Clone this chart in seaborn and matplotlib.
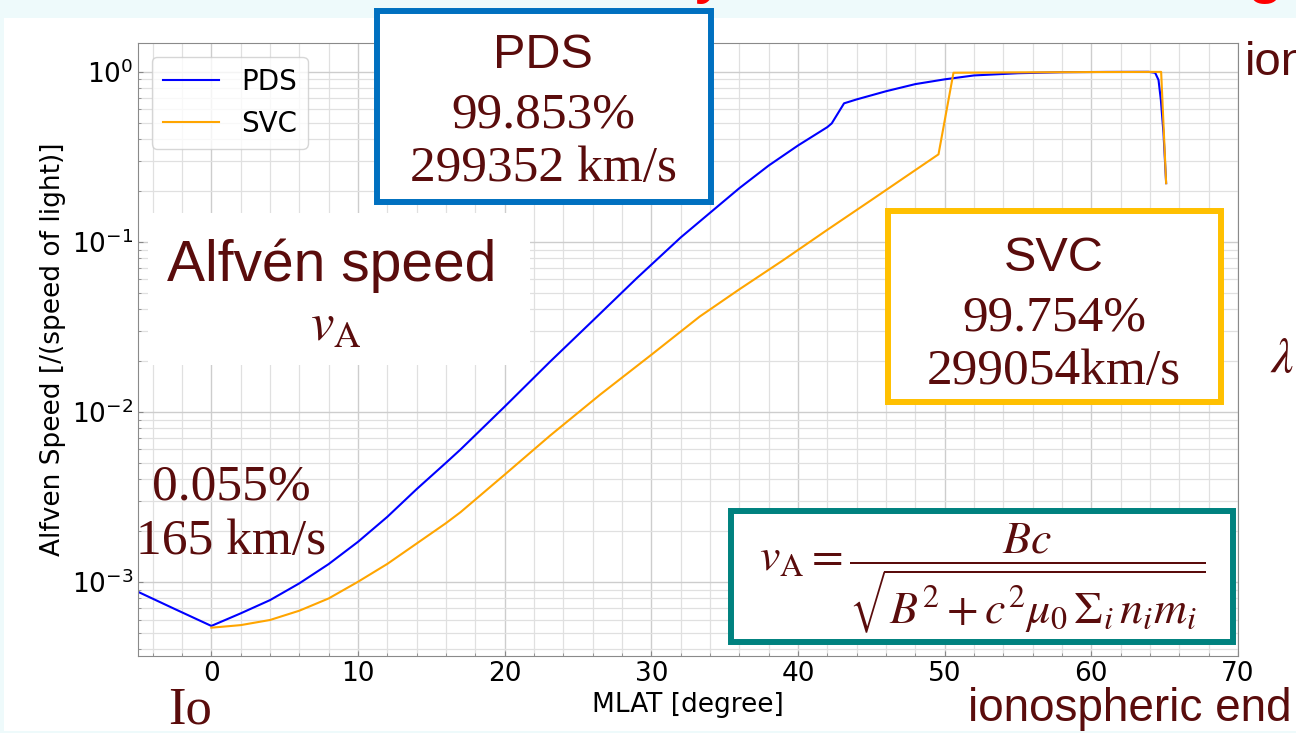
import numpy as np
import pandas as pd
import matplotlib
matplotlib.use("Agg")
import matplotlib.pyplot as plt
import seaborn as sns
from matplotlib.patches import Rectangle
from matplotlib.ticker import AutoMinorLocator

# ---------------- data ----------------
pds_mlat = [-5.0, -2.5, 0.0, 2.0, 4.0, 6.0, 8.0, 10.0, 12.0, 14.0, 16.0, 17.0,
            20.0, 23.1, 26.0, 29.0, 32.0, 34.0, 36.0, 38.0, 40.0, 42.0, 42.3,
            43.14, 44.0, 46.0, 48.0, 50.0, 52.0, 55.0, 58.0, 61.0, 63.9,
            64.35, 64.58, 64.74, 64.92, 65.1]
pds_speed = [8.73e-4, 6.92e-4, 5.5e-4, 6.52e-4, 7.80e-4, 9.79e-4, 1.271e-3,
             1.718e-3, 2.410e-3, 3.508e-3, 5.012e-3, 6.01e-3, 1.072e-2,
             1.972e-2, 3.428e-2, 6.095e-2, 0.1059, 0.1479, 0.2065, 0.2805,
             0.3681, 0.4721, 0.4966, 0.6516, 0.6871, 0.7674, 0.8453, 0.9016,
             0.9506, 0.9795, 0.9931, 0.9972, 0.99853, 0.986, 0.894, 0.682,
             0.436, 0.221]

svc_mlat = [0.0, 2.0, 4.0, 6.0, 8.0, 10.0, 12.0, 14.0, 16.0, 17.0, 20.0, 23.1,
            26.5, 30.0, 33.3, 36.0, 39.0, 42.0, 45.0, 47.5, 49.58, 50.6, 55.0,
            60.0, 64.76, 65.1]
svc_speed = [5.37e-4, 5.56e-4, 5.96e-4, 6.76e-4, 7.98e-4, 1.0e-3, 1.274e-3,
             1.679e-3, 2.213e-3, 2.57e-3, 4.266e-3, 7.244e-3, 1.259e-2,
             2.163e-2, 3.631e-2, 5.248e-2, 7.798e-2, 0.1175, 0.1758, 0.2466,
             0.3266, 0.986, 0.991, 0.995, 0.99754, 0.221]

series_names = ["PDS", "SVC"]
series_colors = {"PDS": "blue", "SVC": "orange"}

xlabel = "MLAT [degree]"
ylabel = "Alfven Speed [/(speed of light)]"

df = pd.concat([
    pd.DataFrame({"MLAT": pds_mlat, "speed": pds_speed, "model": "PDS"}),
    pd.DataFrame({"MLAT": svc_mlat, "speed": svc_speed, "model": "SVC"}),
], ignore_index=True)

# ---------------- figure ----------------
W, H = 1296, 733
fig = plt.figure(figsize=(W / 100, H / 100), dpi=100, facecolor="#EEFAFB")


def fx(px):
    return px / W


def fy(py):
    return 1 - py / H


# white slide area
fig.add_artist(Rectangle((fx(4), fy(731)), fx(1296) - fx(4), fy(18) - fy(731),
                         transform=fig.transFigure, facecolor="white",
                         edgecolor="none", zorder=-10))

ax = fig.add_axes([138 / W, 1 - 656 / H, 1100 / W, 613 / H])

sns.lineplot(data=df, x="MLAT", y="speed", hue="model", hue_order=series_names,
             palette=series_colors, estimator=None, sort=False, ax=ax,
             linewidth=1.5)

ax.set_yscale("log")
ax.set_xlim(-5, 70)
ax.set_ylim(3.66e-4, 1.475)
ax.xaxis.set_minor_locator(AutoMinorLocator())
ax.set_xlabel(xlabel, fontsize=19)
ax.set_ylabel(ylabel, fontsize=19)
ax.tick_params(which="both", labelsize=19, direction="in", color="#888888")
ax.grid(True, which="major", color="#cdcdcd", linewidth=1.0)
ax.grid(True, which="minor", color="#e0e0e0", linewidth=0.9)
for sp in ax.spines.values():
    sp.set_color("#8a8a8a")

handles, labels = ax.get_legend_handles_labels()
ax.legend(handles, labels, loc="upper left", fontsize=20)

# ---------------- slide overlay ----------------
MAROON = "#5a0c0c"
SANS = "Liberation Sans"
SERIF = "Liberation Serif"


def box(x0, y0, x1, y1, ec, lw=4.3):
    fig.add_artist(Rectangle((fx(x0), fy(y1)), fx(x1) - fx(x0), fy(y0) - fy(y1),
                             transform=fig.transFigure, facecolor="white",
                             edgecolor=ec, linewidth=lw, zorder=5))


def txt(x, y, s, size, family, ha="center", **kw):
    fig.text(fx(x), fy(y), s, ha=ha, va="baseline", fontsize=size,
             family=family, color=kw.pop("color", MAROON), zorder=6, **kw)


box(148, 213, 530, 365, "none", lw=0)
box(377, 11, 711, 202, "#0070C0")
box(888, 211, 1221, 402, "#FFC000")
box(731, 511, 1233, 642, "#00827F")

# PDS box
txt(543, 68, "PDS", 35, SANS)
txt(543, 127, "99.853%", 37, SERIF)
txt(543, 181, "299352 km/s", 37, SERIF)
# SVC box
txt(1054, 271, "SVC", 35, SANS)
txt(1054, 331, "99.754%", 37, SERIF)
txt(1054, 384, "299054km/s", 37, SERIF)
# Alfven speed label
txt(332, 281, "Alfvén speed", 41, SANS)
fig.text(fx(336), fy(341), r"$v_{\mathrm{A}}$", ha="center", va="baseline",
         fontsize=38, math_fontfamily="stix", color=MAROON, zorder=6)
# minimum value
txt(231, 500, "0.055%", 37, SERIF)
txt(231, 554, "165 km/s", 37, SERIF)
# bottom labels
txt(190, 723, "Io", 38, SERIF)
txt(968, 721, "ionospheric end", 33, SANS, ha="left")
txt(1245, 75, "ion", 34, SANS, ha="left")
fig.text(fx(1270), fy(372), r"$\lambda$", ha="left", va="baseline",
         fontsize=36, math_fontfamily="stix", color=MAROON, zorder=6)
# formula
fig.text(fx(982), fy(578),
         r"$v_{\mathrm{A}} = \dfrac{Bc}{\sqrt{B^2 + c^2\mu_0\,{\Sigma}_i\, n_i m_i}}$",
         ha="center", va="center", fontsize=33, math_fontfamily="stix",
         color=MAROON, zorder=6)
# slide title fragments (cut off at the top edge)
fig.text(fx(712), 1.0 + 10 / H, "y", ha="center", va="baseline", fontsize=48,
         family=SANS, color="red", zorder=6)
fig.text(fx(1265), 1.0 + 10 / H, "g", ha="center", va="baseline", fontsize=48,
         family=SANS, color="red", zorder=6)

fig.savefig("out.png", dpi=100, facecolor=fig.get_facecolor())
